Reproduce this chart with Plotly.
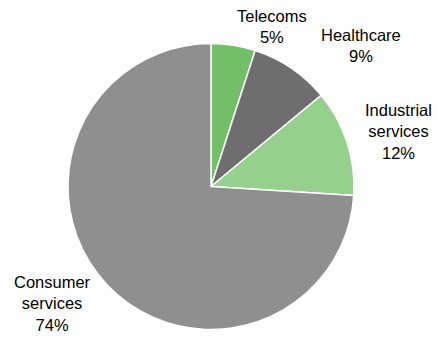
import plotly.graph_objects as go

categories = ["Telecoms", "Healthcare", "Industrial services", "Consumer services"]
values = [5, 9, 12, 74]
colors = ["#72BF67", "#6E6E6E", "#95D18D", "#8F8F8F"]
label_lines = ["Telecoms<br>5%", "Healthcare<br>9%", "Industrial<br>services<br>12%", "Consumer<br>services<br>74%"]

W, H = 437, 338
cx, cy, r = 211, 186.5, 143

fig = go.Figure(go.Pie(
    labels=categories, values=values, sort=False, direction="clockwise", rotation=0,
    marker=dict(colors=colors, line=dict(color="white", width=1.5)),
    textinfo="none", hoverinfo="label+percent", showlegend=False,
    domain=dict(x=[(cx - r) / W, (cx + r) / W], y=[(H - cy - r) / H, (H - cy + r) / H]),
))

# label anchor positions (pixels: centre x, top y)
label_pos = [(272, 5), (361, 24), (398, 99), (52, 271)]
for txt, (px, py) in zip(label_lines, label_pos):
    fig.add_annotation(text=txt, x=px / W, y=1 - py / H, xref="paper", yref="paper",
                       xanchor="center", yanchor="top", showarrow=False, align="center",
                       font=dict(family="Liberation Sans Narrow, Arial Narrow, Liberation Sans, sans-serif",
                                 size=16.5, color="#000000"))

fig.update_layout(width=W, height=H, margin=dict(l=0, r=0, t=0, b=0),
                  paper_bgcolor="white", plot_bgcolor="white")
fig.write_html("out.html")
